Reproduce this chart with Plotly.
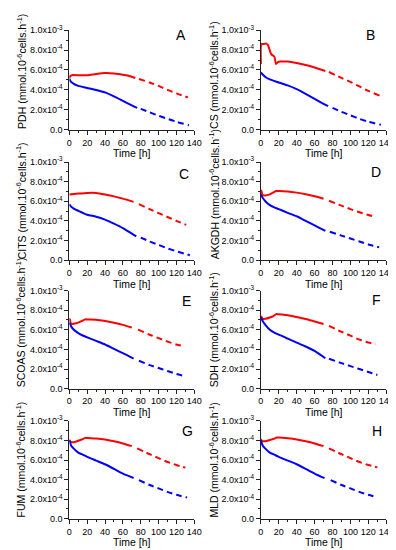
import plotly.graph_objects as go

# ---------------- data (values in units of 1e-4 mmol.10^-6 cells.h^-1) ----------------
SCALE = 1e-4

# A  PDH
pdh_red_t = [0, 1, 3, 10, 20, 30, 40, 50, 55, 65, 74]
pdh_red_v = [5.15, 5.4, 5.48, 5.47, 5.47, 5.6, 5.7, 5.66, 5.6, 5.45, 5.2]
pdh_red_ext_t = [78, 90, 100, 110, 120, 133]
pdh_red_ext_v = [5.1, 4.75, 4.4, 4.0, 3.65, 3.25]
pdh_blue_t = [0, 2, 5, 10, 20, 30, 40, 50, 60, 70, 76]
pdh_blue_v = [5.1, 4.8, 4.6, 4.4, 4.2, 4.0, 3.75, 3.35, 2.9, 2.45, 2.2]
pdh_blue_ext_t = [80, 90, 100, 110, 120, 134]
pdh_blue_ext_v = [2.1, 1.75, 1.4, 1.1, 0.8, 0.45]

# B  CS
cs_red_t = [0, 0.5, 2, 6, 8, 11.5, 15, 17, 19, 22, 30, 40, 50, 60, 72]
cs_red_v = [6.6, 8.6, 8.6, 8.65, 8.5, 7.6, 7.35, 6.6, 6.8, 6.85, 6.85, 6.7, 6.5, 6.25, 5.9]
cs_red_ext_t = [76, 90, 100, 110, 120, 133]
cs_red_ext_v = [5.8, 5.2, 4.8, 4.35, 3.9, 3.4]
cs_blue_t = [0, 5, 10, 20, 30, 40, 50, 60, 70, 75]
cs_blue_v = [5.75, 5.3, 5.05, 4.75, 4.45, 4.07, 3.6, 3.1, 2.6, 2.36]
cs_blue_ext_t = [80, 90, 100, 110, 120, 134]
cs_blue_ext_v = [2.2, 1.8, 1.45, 1.1, 0.8, 0.5]

# C  CITS
cits_red_t = [0, 10, 20, 30, 40, 50, 60, 72]
cits_red_v = [6.7, 6.78, 6.85, 6.85, 6.7, 6.5, 6.27, 5.94]
cits_red_ext_t = [78, 90, 100, 110, 120, 131]
cits_red_ext_v = [5.7, 5.2, 4.8, 4.4, 4.0, 3.6]
cits_blue_t = [0, 2, 5, 10, 20, 30, 40, 50, 60, 70, 75]
cits_blue_v = [5.7, 5.45, 5.25, 5.03, 4.63, 4.43, 4.13, 3.72, 3.26, 2.7, 2.42]
cits_blue_ext_t = [80, 90, 100, 110, 120, 135]
cits_blue_ext_v = [2.3, 1.9, 1.55, 1.2, 0.9, 0.5]

# D  AKGDH
akgdh_red_t = [0, 0.5, 2, 5, 10, 14, 17, 20, 30, 40, 50, 60, 70]
akgdh_red_v = [6.85, 7.1, 6.65, 6.6, 6.7, 6.9, 7.05, 7.05, 7.0, 6.88, 6.72, 6.52, 6.26]
akgdh_red_ext_t = [76, 90, 100, 110, 120, 128]
akgdh_red_ext_v = [6.05, 5.55, 5.2, 4.88, 4.6, 4.42]
akgdh_blue_t = [0, 2, 5, 10, 15, 20, 30, 40, 50, 60, 72]
akgdh_blue_v = [6.7, 6.35, 6.0, 5.6, 5.38, 5.2, 4.82, 4.47, 4.0, 3.55, 2.98]
akgdh_blue_ext_t = [77, 90, 100, 110, 120, 132]
akgdh_blue_ext_v = [2.9, 2.5, 2.2, 1.9, 1.6, 1.32]

# E  SCOAS
scoas_red_t = [0, 0.5, 2, 5, 10, 14, 18, 20, 30, 40, 50, 60, 70]
scoas_red_v = [6.83, 7.1, 6.6, 6.62, 6.73, 6.9, 7.07, 7.05, 7.03, 6.9, 6.72, 6.5, 6.23]
scoas_red_ext_t = [77, 90, 100, 110, 120, 128]
scoas_red_ext_v = [6.02, 5.5, 5.15, 4.8, 4.5, 4.33]
scoas_blue_t = [0, 2, 5, 10, 15, 20, 30, 40, 50, 60, 72]
scoas_blue_v = [6.73, 6.35, 6.0, 5.67, 5.42, 5.23, 4.87, 4.5, 4.05, 3.62, 3.07]
scoas_blue_ext_t = [78, 90, 100, 110, 120, 130]
scoas_blue_ext_v = [2.85, 2.4, 2.1, 1.8, 1.5, 1.27]

# F  SDH
sdh_red_t = [0, 0.5, 2, 5, 10, 14, 17, 20, 30, 40, 50, 60, 70]
sdh_red_v = [7.3, 7.35, 7.12, 7.12, 7.25, 7.4, 7.6, 7.58, 7.48, 7.3, 7.1, 6.85, 6.6]
sdh_red_ext_t = [76, 90, 100, 110, 120, 128]
sdh_red_ext_v = [6.4, 5.8, 5.4, 5.0, 4.7, 4.54]
sdh_blue_t = [0, 2, 5, 10, 15, 20, 30, 40, 50, 60, 72]
sdh_blue_v = [7.25, 6.9, 6.5, 6.0, 5.72, 5.5, 5.1, 4.7, 4.3, 3.85, 3.1]
sdh_blue_ext_t = [76, 90, 100, 110, 120, 130]
sdh_blue_ext_v = [3.05, 2.6, 2.3, 2.0, 1.7, 1.4]

# G  FUM
fum_red_t = [0, 1, 3, 6, 10, 14, 18, 20, 30, 40, 50, 60, 70]
fum_red_v = [8.1, 7.9, 7.83, 7.85, 7.97, 8.1, 8.27, 8.25, 8.2, 8.1, 7.92, 7.7, 7.43]
fum_red_ext_t = [76, 90, 100, 110, 120, 130]
fum_red_ext_v = [7.2, 6.6, 6.2, 5.8, 5.5, 5.23]
fum_blue_t = [0, 2, 5, 10, 15, 20, 30, 40, 50, 60, 72]
fum_blue_v = [8.03, 7.5, 7.17, 6.77, 6.55, 6.33, 5.95, 5.57, 5.1, 4.62, 4.17]
fum_blue_ext_t = [78, 90, 100, 110, 120, 132]
fum_blue_ext_v = [3.95, 3.45, 3.1, 2.75, 2.45, 2.17]

# H  MLD
mld_red_t = [0, 1, 3, 6, 10, 14, 18, 20, 30, 40, 50, 60, 70]
mld_red_v = [8.15, 7.95, 7.93, 7.95, 8.05, 8.15, 8.3, 8.3, 8.22, 8.1, 7.92, 7.7, 7.43]
mld_red_ext_t = [76, 90, 100, 110, 120, 130]
mld_red_ext_v = [7.2, 6.6, 6.2, 5.8, 5.5, 5.25]
mld_blue_t = [0, 2, 5, 10, 15, 20, 30, 40, 50, 60, 71]
mld_blue_v = [8.05, 7.5, 7.17, 6.77, 6.55, 6.33, 5.95, 5.57, 5.1, 4.62, 4.15]
mld_blue_ext_t = [78, 90, 100, 110, 120, 130]
mld_blue_ext_v = [3.95, 3.45, 3.1, 2.75, 2.45, 2.2]

enzyme_names = ["PDH", "CS", "CITS", "AKGDH", "SCOAS", "SDH", "FUM", "MLD"]
panel_letters = ["A", "B", "C", "D", "E", "F", "G", "H"]
y_tick_vals = [0, 2e-4, 4e-4, 6e-4, 8e-4, 1e-3]
y_tick_text = ["0.0", "2.0x10<sup>-4</sup>", "4.0x10<sup>-4</sup>", "6.0x10<sup>-4</sup>",
               "8.0x10<sup>-4</sup>", "1.0x10<sup>-3</sup>"]
x_tick_vals = [0, 20, 40, 60, 80, 100, 120, 140]
x_title = "Time [h]"

series = [
    (pdh_red_t, pdh_red_v, pdh_red_ext_t, pdh_red_ext_v, pdh_blue_t, pdh_blue_v, pdh_blue_ext_t, pdh_blue_ext_v),
    (cs_red_t, cs_red_v, cs_red_ext_t, cs_red_ext_v, cs_blue_t, cs_blue_v, cs_blue_ext_t, cs_blue_ext_v),
    (cits_red_t, cits_red_v, cits_red_ext_t, cits_red_ext_v, cits_blue_t, cits_blue_v, cits_blue_ext_t, cits_blue_ext_v),
    (akgdh_red_t, akgdh_red_v, akgdh_red_ext_t, akgdh_red_ext_v, akgdh_blue_t, akgdh_blue_v, akgdh_blue_ext_t, akgdh_blue_ext_v),
    (scoas_red_t, scoas_red_v, scoas_red_ext_t, scoas_red_ext_v, scoas_blue_t, scoas_blue_v, scoas_blue_ext_t, scoas_blue_ext_v),
    (sdh_red_t, sdh_red_v, sdh_red_ext_t, sdh_red_ext_v, sdh_blue_t, sdh_blue_v, sdh_blue_ext_t, sdh_blue_ext_v),
    (fum_red_t, fum_red_v, fum_red_ext_t, fum_red_ext_v, fum_blue_t, fum_blue_v, fum_blue_ext_t, fum_blue_ext_v),
    (mld_red_t, mld_red_v, mld_red_ext_t, mld_red_ext_v, mld_blue_t, mld_blue_v, mld_blue_ext_t, mld_blue_ext_v),
]

# ---------------- layout geometry (pixels) ----------------
W, H = 396, 550
COLS = [(60, 188.5), (257, 386)]
ROWS = [(15.5, 117.3), (150.3, 250.6), (281.7, 382), (415, 515)]
LETTER_POS = [(175, 20), (370, 20), (178, 163), (375, 161), (181, 292), (376, 291), (182, 425), (376, 425)]
YTITLE_X = [10, 208]

FONT = "Liberation Sans, Arial, sans-serif"
RED = "#FF0000"
BLUE = "#0000FF"

fig = go.Figure()
layout = dict(
    width=W, height=H, margin=dict(l=0, r=0, t=0, b=0),
    paper_bgcolor="white", plot_bgcolor="white", showlegend=False,
    font=dict(family=FONT, size=9, color="black"),
)
annotations = []

for i, (rt, rv, ret, rev, bt, bv, bet, bev) in enumerate(series):
    k = i + 1
    col = i % 2
    row = i // 2
    x0, x1 = COLS[col]
    yt, yb = ROWS[row]
    xs = "x" if k == 1 else f"x{k}"
    ys = "y" if k == 1 else f"y{k}"
    xa = "xaxis" if k == 1 else f"xaxis{k}"
    yax = "yaxis" if k == 1 else f"yaxis{k}"

    def add(t, v, color, dash):
        fig.add_trace(go.Scatter(
            x=t, y=[val * SCALE for val in v], mode="lines", xaxis=xs, yaxis=ys,
            line=dict(color=color, width=2, dash=dash, shape="spline", smoothing=0.6),
            hoverinfo="skip"))

    add(rt, rv, RED, "solid")
    add(ret, rev, RED, "6px,4px")
    add(bt, bv, BLUE, "solid")
    add(bet, bev, BLUE, "6px,4px")

    layout[xa] = dict(
        domain=[x0 / W, x1 / W], anchor=ys, range=[0, 140],
        tickmode="array", tickvals=x_tick_vals, tickangle=0,
        showline=True, linecolor="#222222", linewidth=1, mirror=False,
        ticks="outside", ticklen=4, tickwidth=1, tickcolor="#222222",
        minor=dict(tickmode="array", tickvals=[10, 30, 50, 70, 90, 110, 130],
                   ticks="outside", ticklen=2, tickwidth=1, tickcolor="#222222"),
        showgrid=False, zeroline=False, fixedrange=True,
        tickfont=dict(family=FONT, size=9, color="black"),
    )
    layout[yax] = dict(
        domain=[1 - yb / H, 1 - yt / H], anchor=xs, range=[0, 1e-3],
        tickmode="array", tickvals=y_tick_vals, ticktext=y_tick_text,
        showline=True, linecolor="#222222", linewidth=1, mirror=False,
        ticks="outside", ticklen=4, tickwidth=1, tickcolor="#222222",
        minor=dict(tickmode="array", tickvals=[1e-4, 3e-4, 5e-4, 7e-4, 9e-4],
                   ticks="outside", ticklen=2, tickwidth=1, tickcolor="#222222"),
        showgrid=False, zeroline=False, fixedrange=True,
        tickfont=dict(family=FONT, size=9, color="black"),
    )

    # panel letter
    lx, ly = LETTER_POS[i]
    annotations.append(dict(
        text=panel_letters[i], xref="paper", yref="paper", x=lx / W, y=1 - ly / H,
        xanchor="center", yanchor="middle", showarrow=False,
        font=dict(family=FONT, size=14, color="black")))
    # y title
    annotations.append(dict(
        text=f"{enzyme_names[i]} (mmol.10<sup>-6</sup>cells.h<sup>-1</sup>)",
        xref="paper", yref="paper", x=YTITLE_X[col] / W, y=1 - (yb + 1) / H,
        xanchor="center", yanchor="bottom", textangle=-90, showarrow=False,
        font=dict(family=FONT, size=10.5, color="black")))
    # x title
    annotations.append(dict(
        text=x_title, xref="paper", yref="paper", x=(x0 + x1) / 2 / W, y=1 - (yb + 24) / H,
        xanchor="center", yanchor="middle", showarrow=False,
        font=dict(family=FONT, size=10.5, color="black")))

layout["annotations"] = annotations
fig.update_layout(**layout)
fig.write_html("out.html")
